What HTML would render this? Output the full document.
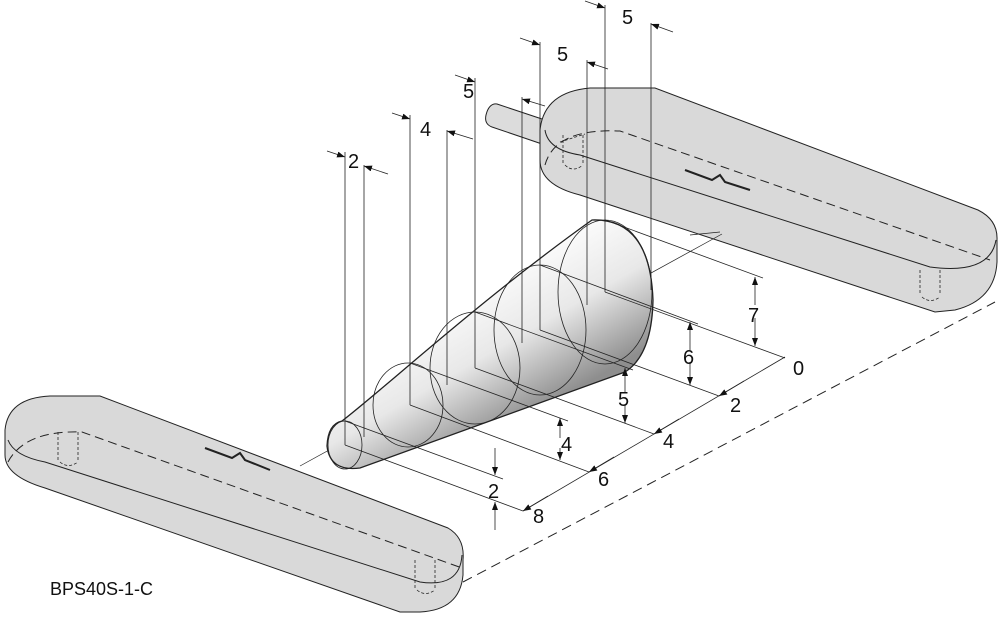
<!DOCTYPE html>
<html><head><meta charset="utf-8"><style>
html,body{margin:0;padding:0;background:#fff;}
svg{display:block;}
text{font-family:"Liberation Sans",sans-serif;fill:#111;}
</style></head><body>
<svg width="1000" height="625" viewBox="0 0 1000 625" xmlns="http://www.w3.org/2000/svg">
<defs>
<linearGradient id="cg" gradientUnits="userSpaceOnUse" x1="500" y1="260" x2="575" y2="390">
<stop offset="0" stop-color="#ffffff"/><stop offset="0.5" stop-color="#e8e8e8"/><stop offset="1" stop-color="#8e8e8e"/>
</linearGradient>
<marker id="ar" markerWidth="8" markerHeight="6" refX="8" refY="3" orient="auto" markerUnits="userSpaceOnUse"><path d="M0,0 L8,3 L0,6 Z" fill="#111"/></marker>
</defs>
<g stroke="#222" stroke-width="1" fill="none">
<!-- rod -->
<path d="M497,104 L545,120 L545,145 L492,127 Q484,124 486,115 Q489,103 497,104 Z" fill="#dcdcdc"/>
<!-- right bar -->
<path d="M540,130 Q544,92 590,88 L655,88 L978,210 Q998,220 997,240 L997,262 Q995,300 955,310 L935,312 L580,195 Q540,185 540,160 Z" fill="#d9d9d9"/>
<path d="M545,130 Q548,150 580,155 L930,267 Q990,275 996,240"/>
<path d="M545,165 Q555,128 620,131 L990,260" stroke-dasharray="9,5"/>
<path d="M560,142 L585,134 M563,135 v28 M583,135 v28 M565,165 q8,8 18,0" stroke-width="0.8" stroke-dasharray="3,2"/>
<path d="M920,270 v25 M940,270 v25 M922,297 q8,7 18,0" stroke-width="0.8" stroke-dasharray="3,2"/>
<path d="M685,170 L712,180 L720,175 L725,182 L750,190" stroke-width="2"/>
<!-- left bar -->
<path d="M5,430 Q8,398 50,396 L100,396 L448,528 Q465,538 463,560 L463,575 Q460,610 420,612 L400,612 L45,488 Q5,476 5,455 Z" fill="#d9d9d9"/>
<path d="M8,440 Q14,456 45,462 L420,582 Q460,588 462,555"/>
<path d="M8,462 Q25,430 82,432 L462,568" stroke-dasharray="9,5"/>
<path d="M58,432 v28 M78,432 v28 M60,462 q8,7 18,0" stroke-width="0.8" stroke-dasharray="3,2"/>
<path d="M415,560 v28 M435,560 v28 M417,590 q8,7 18,0" stroke-width="0.8" stroke-dasharray="3,2"/>
<path d="M205,448 L232,458 L240,453 L245,460 L270,470" stroke-width="2"/>
<!-- dashed long line -->
<path d="M463,582 L995,302" stroke-dasharray="10,6"/>
<!-- axis -->
<path d="M300,466 L722,234" stroke-width="0.7"/>
<!-- cone -->
<path d="M342,421 C385,388 480,300 592,220 Q650,218 653,300 Q652,355 625,372 L360,468 Q330,472 327,446 Q328,424 342,421 Z" fill="url(#cg)" stroke-width="1.3"/>
<g stroke-width="0.8">
<ellipse cx="345" cy="445" rx="17" ry="24"/>
<ellipse cx="408" cy="405" rx="35" ry="42"/>
<ellipse cx="475" cy="368" rx="45" ry="56"/>
<ellipse cx="540" cy="330" rx="46" ry="65"/>
<ellipse cx="605" cy="292" rx="47" ry="72"/>
</g>
<!-- vertical extension lines -->
<g stroke-width="0.8">
<path d="M345,152 V445 M364,165 V437 M410,115 V405 M447,130 V385 M475,78 V368 M522,97 V343 M540,42 V330 M587,60 V305 M605,5 V292 M651,23 V290"/>
</g>
<g stroke-width="0.8" marker-end="url(#ar)">
<path d="M327,151 L345,157"/><path d="M388,174 L364,166"/>
<path d="M392,113 L410,119"/><path d="M473,139 L447,131"/>
<path d="M455,75 L475,82"/><path d="M545,106 L522,99"/>
<path d="M520,38 L540,45"/><path d="M608,69 L587,62"/>
<path d="M585,1 L605,8"/><path d="M673,32 L651,24"/>
</g>
<!-- ground dimension lines -->
<g stroke-width="0.8">
<!-- center lines to baseline -->
<path d="M605,292 L785,358 M540,330 L719,396 M475,368 L654,434 M410,405 L589,472 M345,445 L523,511"/>
<!-- top lines -->
<path d="M605,220 L763,278 M540,265 L698,324 M475,312 L633,370 M410,363 L568,421 M345,421 L503,479"/>
<path d="M690,235 L720,232"/>
<path d="M785,357 L523,511"/>
</g>
<g stroke-width="0.8" marker-end="url(#ar)">
<path d="M755,305 V277"/><path d="M755,318 V346"/>
<path d="M690,350 V322"/><path d="M690,362 V385"/>
<path d="M625,392 V368"/><path d="M625,405 V423"/>
<path d="M560,438 V418"/><path d="M560,448 V460"/>
<path d="M495,448 V475"/><path d="M495,530 V502"/>
<path d="M744,381 L719,396"/><path d="M679,419 L654,434"/><path d="M614,457 L589,472"/><path d="M548,496 L523,511"/>
</g>
</g>
<g font-size="20">
<text x="348" y="168">2</text>
<text x="420" y="136">4</text>
<text x="463" y="98">5</text>
<text x="557" y="61">5</text>
<text x="622" y="24">5</text>
<text x="748" y="322">7</text>
<text x="683" y="364">6</text>
<text x="618" y="406">5</text>
<text x="561" y="451">4</text>
<text x="488" y="498">2</text>
<text x="793" y="375">0</text>
<text x="730" y="412">2</text>
<text x="663" y="448">4</text>
<text x="598" y="486">6</text>
<text x="533" y="523">8</text>
<text x="50" y="595" font-size="18">BPS40S-1-C</text>
</g>
</svg>
</body></html>
